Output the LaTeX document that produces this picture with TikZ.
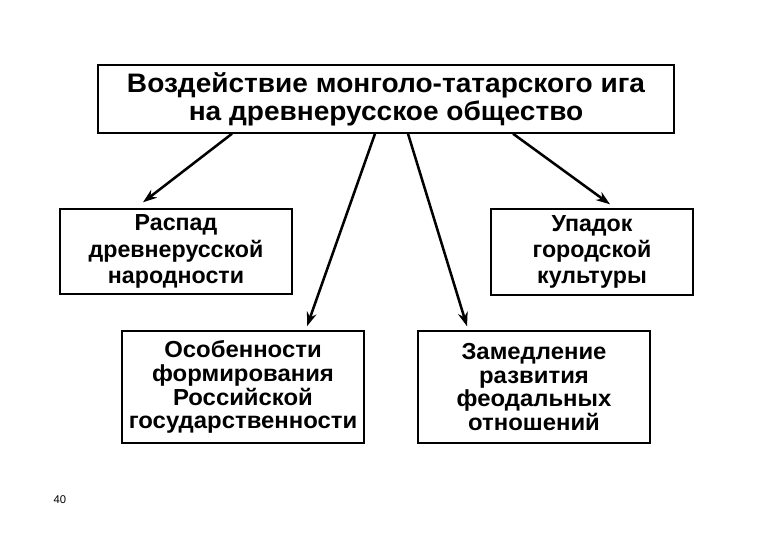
\documentclass[tikz,border=0pt]{standalone}
\usepackage{fontspec}
\setmainfont{Liberation Sans}
\usetikzlibrary{arrows.meta, calc}
\definecolor{igablack}{HTML}{000000}
\tikzset{
  igabox/.style={draw=igablack, line width=1pt, fill=white, align=center, inner sep=0pt},
  upperbox/.style={igabox, font=\bfseries\fontsize{16.5}{18.6}\selectfont},
  lowerbox/.style={igabox,
    font=\bfseries\fontsize{16.5}{17}\selectfont\addfontfeature{FakeStretch=1.03}},
  igaarrow/.style={draw=igablack, line width=1.8pt, -{Stealth[length=10pt, width=7pt]}}
}

\begin{document}
\begin{tikzpicture}[x=0.025cm, y=-0.025cm]
  \useasboundingbox (0,0) rectangle (780,540);
  % main box
  \node[igabox, minimum width=576*0.025cm, minimum height=68*0.025cm,
    font=\bfseries\fontsize{19}{20}\selectfont\addfontfeature{FakeStretch=1.05}] (top) at (386,99)
    {Воздействие монголо-татарского ига\\на древнерусское общество};
  % consequences
  \node[upperbox, minimum width=232*0.025cm, minimum height=85*0.025cm] (raspad) at (176,251.5)
    {Распад\\древнерусской\\народности};
  \node[upperbox, minimum width=202*0.025cm, minimum height=86*0.025cm] (upadok) at (592,252)
    {Упадок\\городской\\культуры};
  \node[lowerbox, minimum width=242*0.025cm, minimum height=112*0.025cm] (osob) at (243,387)
    {Особенности\\формирования\\Российской\\государственности};
  \node[lowerbox, minimum width=232*0.025cm, minimum height=112*0.025cm] (zamed) at (534,387)
    {Замедление\\развития\\феодальных\\отношений};
  \node[font=\fontsize{8}{9}\selectfont] (page) at (60,500) {40};
  % arrows
  \draw[igaarrow] ($(top.south)+(-154,0)$) -- ($(raspad.north)+(-33,-6)$);
  \draw[igaarrow] ($(top.south)+(-11,0)$) -- ($(osob.north)+(64,-4)$);
  \draw[igaarrow] ($(top.south)+(22,0)$) -- ($(zamed.north)+(-67,-4)$);
  \draw[igaarrow] ($(top.south)+(127,0)$) -- ($(upadok.north)+(18,-4)$);
\end{tikzpicture}
\end{document}
